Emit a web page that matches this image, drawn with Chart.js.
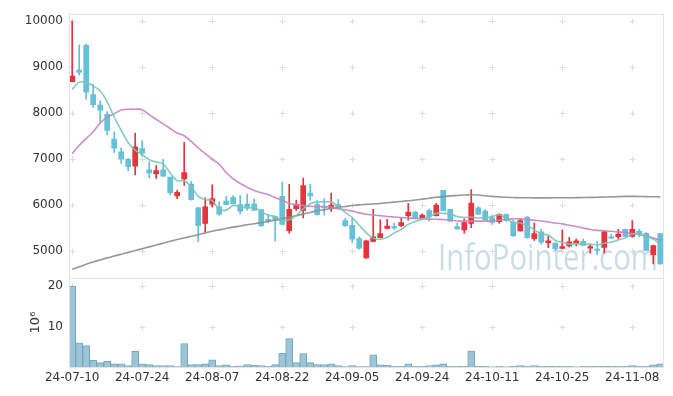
<!DOCTYPE html>
<html>
<head>
<meta charset="utf-8">
<title>candles</title>
<script src="https://cdn.jsdelivr.net/npm/chart.js@4.4.1/dist/chart.umd.min.js"></script>
<style>
  html, body { margin: 0; padding: 0; background: #fff; }
  #wrap { width: 673px; height: 396px; }
</style>
</head>
<body>
<div id="wrap"><canvas id="chart" width="673" height="396"></canvas></div>
<script>
const dates = [
  '24-07-10','24-07-11','24-07-12','24-07-15','24-07-16','24-07-17','24-07-18','24-07-19','24-07-22','24-07-23',
  '24-07-24','24-07-25','24-07-26','24-07-29','24-07-30','24-07-31','24-08-01','24-08-02','24-08-05','24-08-06',
  '24-08-07','24-08-08','24-08-09','24-08-12','24-08-13','24-08-14','24-08-16','24-08-19','24-08-20','24-08-21',
  '24-08-22','24-08-23','24-08-26','24-08-27','24-08-28','24-08-29','24-08-30','24-09-02','24-09-03','24-09-04',
  '24-09-05','24-09-06','24-09-09','24-09-10','24-09-11','24-09-12','24-09-13','24-09-19','24-09-20','24-09-23',
  '24-09-24','24-09-25','24-09-26','24-09-27','24-09-30','24-10-02','24-10-04','24-10-07','24-10-08','24-10-10',
  '24-10-11','24-10-14','24-10-15','24-10-16','24-10-17','24-10-18','24-10-21','24-10-22','24-10-23','24-10-24',
  '24-10-25','24-10-28','24-10-29','24-10-30','24-10-31','24-11-01','24-11-04','24-11-05','24-11-06','24-11-07',
  '24-11-08','24-11-11','24-11-12','24-11-13','24-11-14'
];

const openP = [
  8680, 8930, 9470, 8400, 8170, 7970, 7430, 7150, 6990, 6840,
  7220, 6760, 6670, 6760, 6600, 6190, 6560, 6450, 5930, 5590,
  6010, 5950, 6080, 6160, 6000, 6010, 6020, 5890, 5680, 5740,
  6180, 5430, 5910, 5875, 6250, 6000, 5960, 5930, 6000, 5650,
  5550, 5260, 4840, 5200, 5280, 5480, 5520, 5540, 5760, 5840,
  5700, 5870, 5760, 6310, 5900, 5520, 5450, 5590, 5930, 5860,
  5710, 5630, 5790, 5620, 5425, 5730, 5260, 5410, 5170, 5160,
  5045, 5100, 5160, 5200, 5050, 5030, 5070, 5300, 5300, 5460,
  5310, 5420, 5375, 4910, 5370
];
const highP = [
  10000, 9480, 9500, 8620, 8260, 8030, 7580, 7240, 7010, 7560,
  7390, 6930, 6850, 6990, 6600, 6310, 7360, 6510, 5940, 6150,
  6430, 6060, 6180, 6200, 6200, 6230, 6120, 5890, 5790, 5750,
  6490, 6440, 6100, 6580, 6440, 6090, 6130, 6250, 6110, 5700,
  5700, 5300, 5230, 5900, 5670, 5680, 5600, 5700, 6030, 5850,
  5800, 5910, 6030, 6310, 5900, 5600, 5690, 6330, 5960, 5890,
  5770, 5800, 5800, 5660, 5690, 5740, 5600, 5460, 5310, 5170,
  5450, 5290, 5250, 5250, 5130, 5200, 5420, 5360, 5460, 5470,
  5650, 5460, 5390, 5120, 5370
];
const lowP = [
  8680, 8820, 8300, 8120, 7780, 7520, 7130, 6900, 6740, 6650,
  7050, 6580, 6570, 6620, 6210, 6130, 6420, 6100, 5200, 5410,
  5950, 5770, 6000, 6010, 5800, 5880, 5870, 5520, 5600, 5210,
  5560, 5380, 5875, 5710, 6100, 5770, 5770, 5850, 5900, 5520,
  5170, 5030, 4830, 5190, 5270, 5470, 5460, 5520, 5660, 5700,
  5690, 5640, 5750, 5870, 5640, 5460, 5380, 5500, 5780, 5650,
  5570, 5590, 5640, 5310, 5420, 5270, 5220, 5140, 5060, 5000,
  5040, 5080, 5100, 5110, 4940, 4910, 4940, 5260, 5240, 5300,
  5290, 5300, 4995, 4710, 4700
];
const closeP = [
  8800, 8880, 8450, 8180, 8060, 7620, 7230, 6990, 6830, 7260,
  7120, 6690, 6740, 6620, 6260, 6270, 6700, 6110, 5540, 5950,
  6130, 5790, 6000, 6020, 5860, 5940, 5880, 5540, 5650, 5680,
  5570, 5900, 6000, 6415, 6190, 5780, 5930, 5990, 5910, 5540,
  5250, 5050, 5210, 5300, 5370, 5530, 5490, 5610, 5840, 5700,
  5770, 5730, 5990, 5870, 5640, 5470, 5610, 6035, 5790, 5660,
  5610, 5790, 5650, 5320, 5650, 5280, 5370, 5180, 5210, 5040,
  5085, 5190, 5210, 5110, 5085, 5000, 5410, 5270, 5360, 5310,
  5460, 5350, 5000, 5110, 4710
];

// volume, millions of shares
const volume = [
  20.0, 6.0, 5.3, 1.65, 1.1, 1.4, 0.8, 0.8, 0.35, 3.85,
  0.8, 0.6, 0.35, 0.35, 0.35, 0.1, 5.8, 0.6, 0.6, 0.8,
  1.8, 0.35, 0.55, 0.15, 0.3, 0.6, 0.4, 0.35, 0.15, 0.6,
  3.4, 7.0, 1.1, 3.3, 1.1, 0.6, 0.6, 0.8, 0.35, 0.1,
  0.35, 0.1, 0.1, 3.0, 0.55, 0.4, 0.15, 0.15, 0.8, 0.15,
  0.15, 0.35, 0.55, 0.8, 0.15, 0.15, 0.15, 4.0, 0.15, 0.15,
  0.05, 0.15, 0.05, 0.15, 0.35, 0.15, 0.35, 0.15, 0.15, 0.15,
  0.15, 0.15, 0.05, 0.15, 0.15, 0.15, 0.15, 0.15, 0.15, 0.15,
  0.35, 0.15, 0.15, 0.55, 0.8
];

const ma5 = [
  8510, 8670, 8660, 8590, 8480, 8240, 7910, 7620, 7350, 7190,
  7090, 6980, 6930, 6890, 6690, 6520, 6520, 6390, 6180, 6110,
  6090, 5900, 5880, 5980, 5960, 5920, 5940, 5850, 5770, 5740,
  5660, 5670, 5760, 5910, 6020, 6060, 6060, 6060, 5960, 5830,
  5720, 5550, 5390, 5270, 5240, 5290, 5380, 5460, 5570, 5630,
  5680, 5730, 5810, 5810, 5800, 5740, 5720, 5730, 5710, 5710,
  5740, 5780, 5700, 5610, 5600, 5540, 5450, 5360, 5340, 5220,
  5180, 5140, 5150, 5130, 5140, 5120, 5160, 5180, 5230, 5270,
  5360, 5350, 5300, 5250, 5130
];
const ma20 = [
  7110, 7290, 7440, 7590, 7780, 7900, 7980, 8060, 8080, 8080,
  8070, 7960, 7860, 7760, 7660, 7560, 7500, 7380, 7240, 7110,
  6990, 6880, 6700, 6560, 6460, 6380, 6310, 6260, 6220, 6150,
  6090, 6030, 6000, 5980, 5965, 5960, 5960, 5950, 5910, 5890,
  5860, 5820, 5790, 5775, 5760, 5740, 5730, 5720, 5710, 5700,
  5695, 5685, 5680, 5675, 5660, 5645, 5640, 5640, 5640, 5640,
  5645, 5660, 5680, 5690, 5690, 5675, 5660, 5645, 5620, 5600,
  5580, 5550, 5525, 5490, 5460, 5440, 5430, 5420, 5405, 5390,
  5370, 5345, 5320, 5270, 5230
];
const maLong = [
  4590, 4645, 4700, 4750, 4795, 4840, 4880, 4920, 4960, 5000,
  5040, 5080, 5120, 5160, 5200, 5240, 5275, 5310, 5345, 5385,
  5420, 5450, 5480, 5510, 5535, 5560, 5585, 5610, 5635, 5660,
  5690, 5725, 5760, 5795, 5830, 5865, 5890, 5915, 5940, 5960,
  5980, 5995, 6005, 6015, 6025, 6040, 6055, 6070, 6085, 6100,
  6120, 6140, 6160, 6175, 6190, 6200, 6210, 6215, 6210, 6195,
  6180, 6170, 6160, 6155, 6150, 6150, 6148, 6148, 6148, 6150,
  6150, 6150, 6152, 6155, 6158, 6160, 6165, 6170, 6175, 6180,
  6180, 6178, 6175, 6172, 6170
];

const priceTicks = [5000, 6000, 7000, 8000, 9000, 10000];
const volTicks = [10, 20];
const dateTicks = [0, 10, 20, 30, 40, 50, 60, 70, 80];

const upColor = '#e8333c';
const downColor = '#66c0d7';
const candleColors = closeP.map((c, i) => c >= openP[i] ? upColor : downColor);

const pts = arr => arr.map((v, i) => ({ x: i, y: v }));

Chart.defaults.font.family = '"DejaVu Sans", sans-serif';
Chart.defaults.font.size = 12;
Chart.defaults.color = '#333';

const backdrop = {
  id: 'backdrop',
  beforeDatasetsDraw(chart) {
    const ctx = chart.ctx;
    const x = chart.scales.x;
    const panes = [[chart.scales.y, priceTicks], [chart.scales.yVol, volTicks]];
    ctx.save();
    ctx.lineWidth = 1;
    panes.forEach(([s, ticks]) => {
      ctx.strokeStyle = '#e4e4e4';
      ctx.strokeRect(Math.round(x.left) - 0.5, Math.round(s.top) + 0.5,
        Math.round(x.right - x.left) + 1, Math.round(s.bottom - s.top));
      ctx.strokeStyle = '#dcdcdc';
      ctx.beginPath();
      dateTicks.forEach(d => {
        const px = Math.round(x.getPixelForValue(d)) + 0.5;
        ticks.forEach(t => {
          const py = Math.round(s.getPixelForValue(t)) + 0.5;
          ctx.moveTo(px - 3, py); ctx.lineTo(px + 3, py);
          ctx.moveTo(px, py - 3); ctx.lineTo(px, py + 3);
        });
      });
      ctx.stroke();
    });
    // watermark
    const y = chart.scales.y;
    ctx.font = '37px "Open Sans", sans-serif';
    ctx.fillStyle = 'rgba(185,208,223,0.75)';
    ctx.textAlign = 'right';
    ctx.textBaseline = 'alphabetic';
    const text = 'InfoPointer.com';
    const w = ctx.measureText(text).width;
    ctx.translate(x.right - 5, y.bottom - 8);
    ctx.scale(220 / w, 1);
    ctx.fillText(text, 0, 0);
    ctx.restore();
  }
};

new Chart(document.getElementById('chart'), {
  type: 'bar',
  data: {
    datasets: [
      { type: 'line', label: 'MA5', data: pts(ma5), yAxisID: 'y', borderColor: 'rgba(120,198,180,0.9)', borderWidth: 1.6, pointRadius: 0, tension: 0.35, order: 0 },
      { type: 'line', label: 'MA20', data: pts(ma20), yAxisID: 'y', borderColor: 'rgba(200,130,194,0.9)', borderWidth: 1.6, pointRadius: 0, tension: 0.35, order: 0 },
      { type: 'line', label: 'MA', data: pts(maLong), yAxisID: 'y', borderColor: 'rgba(140,140,140,0.9)', borderWidth: 1.6, pointRadius: 0, tension: 0.35, order: 0 },
      { label: 'body', data: openP.map((o, i) => ({ x: i, y: [o, closeP[i]] })), yAxisID: 'y', backgroundColor: candleColors, barThickness: 5, grouped: false, minBarLength: 1, order: 1 },
      { label: 'wick', data: lowP.map((l, i) => ({ x: i, y: [l, highP[i]] })), yAxisID: 'y', backgroundColor: candleColors, barThickness: 1, grouped: false, order: 2 },
      { label: 'volume', data: pts(volume), yAxisID: 'yVol', backgroundColor: '#9cc4d5', borderColor: '#74a7bf', borderWidth: 1, barThickness: 7, grouped: false, order: 3 }
    ]
  },
  options: {
    responsive: false,
    animation: false,
    devicePixelRatio: 1,
    layout: { padding: { top: 10, right: 10, left: 0, bottom: 0 } },
    plugins: { legend: { display: false }, tooltip: { enabled: false } },
    scales: {
      x: {
        type: 'linear',
        offset: false,
        min: -0.31,
        max: 84.39,
        grid: { display: false, drawTicks: false, offset: false },
        border: { display: false },
        afterBuildTicks: s => { s.ticks = dateTicks.map(v => ({ value: v })); },
        afterFit: s => { s.height = 29; },
        ticks: { autoSkip: false, maxRotation: 0, padding: 4, color: '#333', callback: v => dates[v] }
      },
      yVol: {
        type: 'linear',
        position: 'left',
        stack: 'panes',
        stackWeight: 90,
        min: 0,
        max: 22,
        grid: { display: false, drawTicks: false },
        border: { display: false },
        afterBuildTicks: s => { s.ticks = volTicks.map(v => ({ value: v })); },
        afterFit: s => { s.width = 70; },
        ticks: { padding: 7, color: '#333', callback: v => String(v) },
        title: { display: true, text: '10\u2076', font: { size: 13 }, color: '#333', padding: { top: 28, bottom: 0 } }
      },
      y: {
        type: 'linear',
        position: 'left',
        stack: 'panes',
        stackWeight: 267,
        min: 4400,
        max: 10150,
        grid: { display: false, drawTicks: false },
        border: { display: false },
        afterBuildTicks: s => { s.ticks = priceTicks.map(v => ({ value: v })); },
        afterFit: s => { s.width = 70; },
        ticks: { padding: 7, color: '#333', callback: v => String(v) }
      }
    }
  },
  plugins: [backdrop]
});
</script>
</body>
</html>
